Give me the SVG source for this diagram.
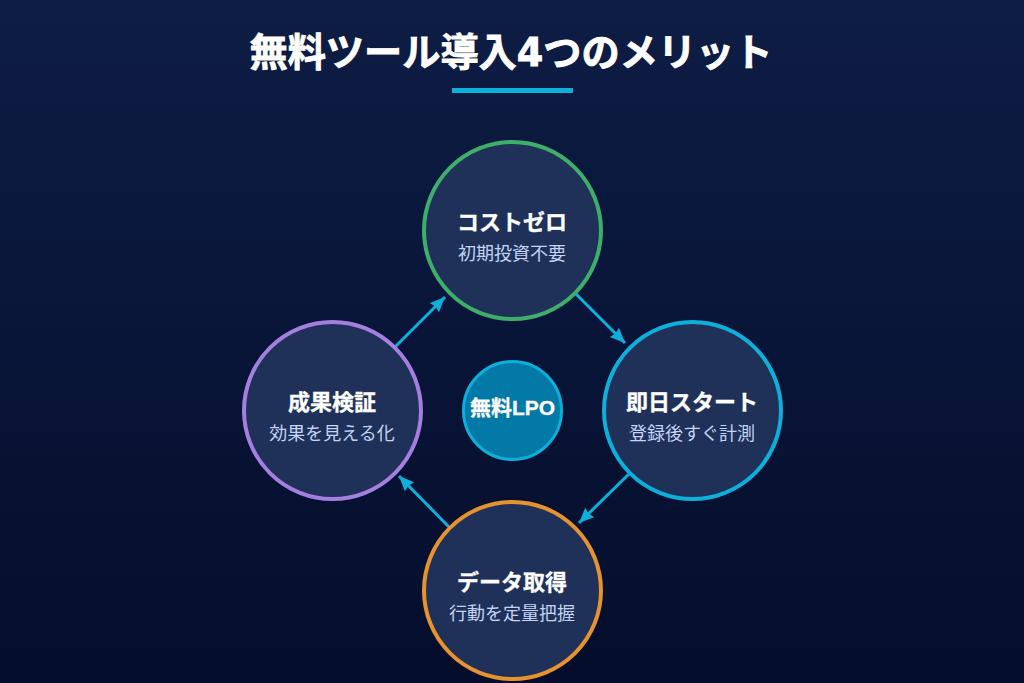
<svg xmlns="http://www.w3.org/2000/svg" width="1024" height="683" viewBox="0 0 1024 683">
<defs>
<linearGradient id="bg" x1="0" y1="0" x2="0" y2="1"><stop offset="0" stop-color="#0e1d45"/><stop offset="1" stop-color="#040d2b"/></linearGradient>
<marker id="ah" markerUnits="userSpaceOnUse" markerWidth="16" markerHeight="14" refX="15" refY="6.5" orient="auto"><path d="M0 0L15 6.5L0 13L1.5 6.5Z" fill="#0cb0da"/></marker>
</defs>
<style>
text{font-family:"DejaVu Sans","Noto Sans CJK JP",sans-serif;text-anchor:middle}
.n{fill:#1f3159;stroke-width:4}
.t{fill:#fff;font-size:22px;font-weight:700;stroke:#fff;stroke-width:.3}
.s{fill:#c3d4f5;font-size:18px}
.c{stroke:#0cb0da;stroke-width:3;fill:none;marker-end:url(#ah)}
</style>
<rect width="1024" height="683" fill="url(#bg)"/>
<text x="511" y="66" fill="#fff" stroke="#fff" stroke-width=".8" font-size="38.2" font-weight="700">無料ツール導入4つのメリット</text>
<rect x="452" y="88" width="121" height="5" fill="#0cb0da"/>
<g id="connectors">
<line class="c" x1="576" y1="294" x2="625" y2="343"/>
<line class="c" x1="630" y1="473" x2="579" y2="523"/>
<line class="c" x1="449" y1="527" x2="399" y2="476"/>
<line class="c" x1="395" y1="347" x2="445" y2="297"/>
</g>
<g id="node-top"><circle class="n" stroke="#3fae6a" cx="512.5" cy="230.5" r="88.5"/><text class="t" x="512" y="230">コストゼロ</text><text class="s" x="512" y="260">初期投資不要</text></g>
<g id="node-right"><circle class="n" stroke="#0cb0da" cx="692.5" cy="410.5" r="88.5"/><text class="t" x="692" y="410">即日スタート</text><text class="s" x="692" y="440">登録後すぐ計測</text></g>
<g id="node-bottom"><circle class="n" stroke="#e5922f" cx="512.5" cy="590.5" r="88.5"/><text class="t" x="512" y="590">データ取得</text><text class="s" x="512" y="620">行動を定量把握</text></g>
<g id="node-left"><circle class="n" stroke="#a57fe0" cx="332.5" cy="410.5" r="88.5"/><text class="t" x="332" y="410">成果検証</text><text class="s" x="332" y="440">効果を見える化</text></g>
<g id="node-center"><circle cx="512.5" cy="410.5" r="49" fill="#0279a6" stroke="#0cb0da" stroke-width="3"/><text class="t" style="font-size:21px;font-family:'Liberation Sans','Noto Sans CJK JP',sans-serif" x="512.5" y="415">無料LPO</text></g>
</svg>
